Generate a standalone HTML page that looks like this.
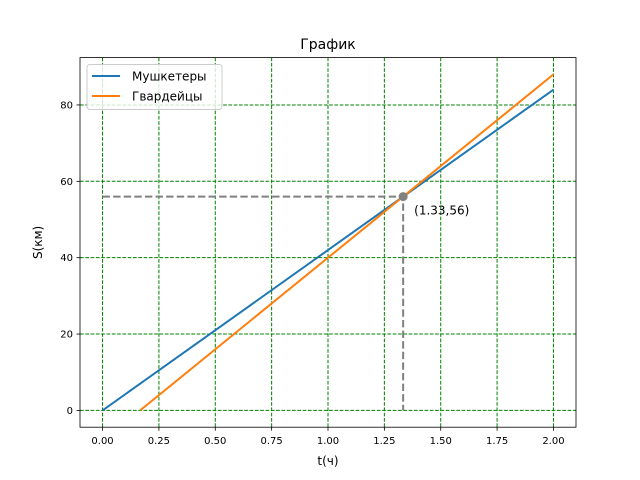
<!DOCTYPE html>
<html><head><meta charset="utf-8"><style>
body{margin:0;background:#fff}
svg{display:block;font-family:"DejaVu Sans","Liberation Sans",sans-serif}
</style></head><body>
<svg width="640" height="480" id="c"></svg>
<script>
const xTicks=[0,0.25,0.5,0.75,1.0,1.25,1.5,1.75,2.0];
const xTickLabels=["0.00","0.25","0.50","0.75","1.00","1.25","1.50","1.75","2.00"];
const yTicks=[0,20,40,60,80];
const seriesNames=["Мушкетеры","Гвардейцы"];
const musketT=[0,2];
const musketS=[0,84];
const guardT=[0.1667,2];
const guardS=[0,88];
const meetT=[1.3333];
const meetS=[56];
const L=80,R=576,T=57.6,B=427.2;
const x=v=>L+(v+0.1)/2.2*(R-L);
const y=v=>B-(v+4.4)/96.8*(B-T);
const svg=document.getElementById('c');
const NS='http://www.w3.org/2000/svg';
function mk(tag,attrs,parent){const e=document.createElementNS(NS,tag);for(const k in attrs)e.setAttribute(k,attrs[k]);(parent||svg).appendChild(e);return e;}
let e;
e=mk('rect',{x:L,y:T,width:R-L,height:B-T,fill:'#fff'});


xTicks.forEach((t,i)=>{
 e=mk('line',{x1:x(t),x2:x(t),y1:T,y2:B,stroke:'green','stroke-width':1,'stroke-dasharray':'3.7,1.6'});
 
 
 mk('line',{x1:x(t),x2:x(t),y1:B,y2:B+3.5,stroke:'#000','stroke-width':0.8});
 e=mk('text',{x:x(t),y:B+17,'font-size':10,'text-anchor':'middle'});e.textContent=xTickLabels[i];
 
 
});
yTicks.forEach(t=>{
 e=mk('line',{x1:L,x2:R,y1:y(t),y2:y(t),stroke:'green','stroke-width':1,'stroke-dasharray':'3.7,1.6'});
 
 
 mk('line',{x1:L-3.5,x2:L,y1:y(t),y2:y(t),stroke:'#000','stroke-width':0.8});
 e=mk('text',{x:L-7,y:y(t)+3.5,'font-size':10,'text-anchor':'end'});e.textContent=String(t);
 
 
});
e=mk('polyline',{points:`${x(0)},${y(meetS[0])} ${x(meetT[0])},${y(meetS[0])} ${x(meetT[0])},${y(0)}`,fill:'none',stroke:'gray','stroke-width':2,'stroke-dasharray':'7.4,3.2'});


e=mk('polyline',{points:musketT.map((t,i)=>x(t)+','+y(musketS[i])).join(' '),fill:'none',stroke:'#1f77b4','stroke-width':2});


e=mk('polyline',{points:guardT.map((t,i)=>x(t)+','+y(guardS[i])).join(' '),fill:'none',stroke:'#ff7f0e','stroke-width':2});


e=mk('circle',{cx:x(meetT[0]),cy:y(meetS[0]),r:4.5,fill:'gray'});


e=mk('text',{x:x(meetT[0])+11,y:y(meetS[0])+18,'font-size':12});e.textContent='(1.33,56)';


e=mk('rect',{x:L,y:T,width:R-L,height:B-T,fill:'none',stroke:'#000','stroke-width':0.8});


e=mk('text',{x:(L+R)/2,y:49,'font-size':14,'text-anchor':'middle'});e.textContent='График';


e=mk('text',{x:(L+R)/2,y:465,'font-size':12,'text-anchor':'middle'});e.textContent='t(ч)';


e=mk('text',{x:0,y:0,'font-size':12,'text-anchor':'middle',transform:`translate(42,${(T+B)/2}) rotate(-90)`});e.textContent='S(км)';


const lg=mk('g',{});


mk('rect',{x:87,y:64.5,width:135,height:45,rx:3,fill:'#fff','fill-opacity':0.8,stroke:'#ccc','stroke-width':1},lg);
const cols=['#1f77b4','#ff7f0e'];
seriesNames.forEach((n,i)=>{
 const yy=76+i*20;
 mk('line',{x1:92,x2:120,y1:yy,y2:yy,stroke:cols[i],'stroke-width':2},lg);
 e=mk('text',{x:132,y:yy+4.5,'font-size':12},lg);e.textContent=n;
 
 
});
</script>
</body></html>
